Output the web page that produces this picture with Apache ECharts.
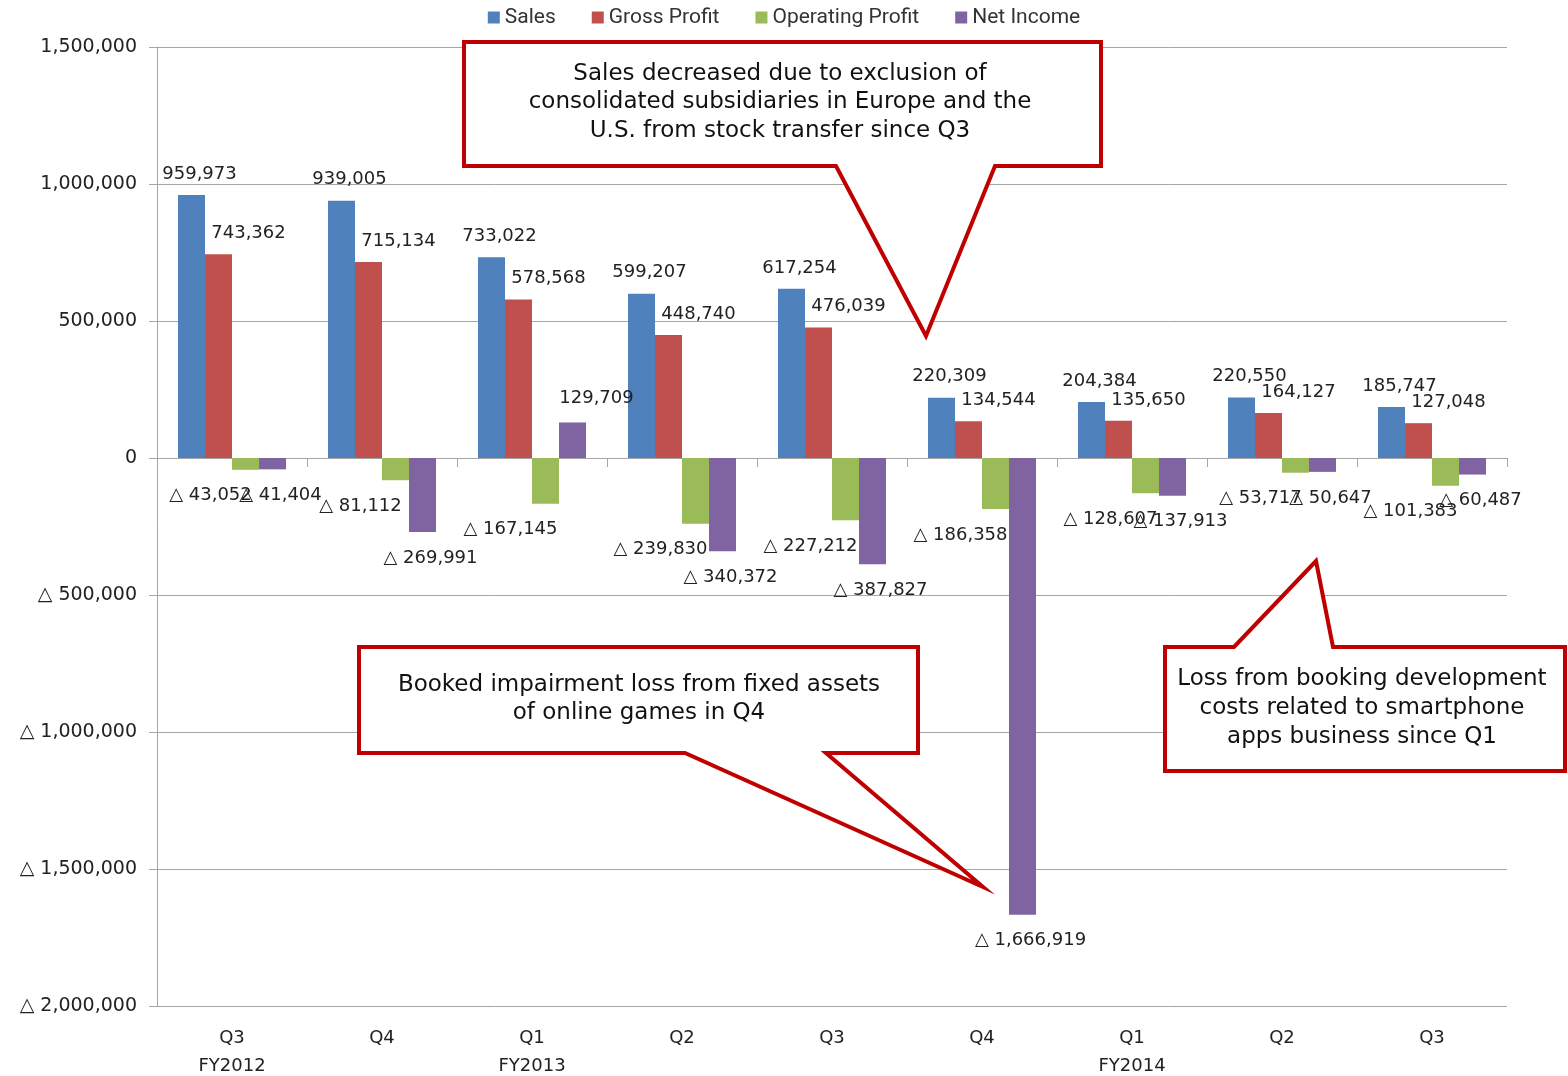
<!DOCTYPE html>
<html lang="en">
<head>
    <meta charset="UTF-8">
    <title>Quarterly results</title>
    <script src="https://cdn.jsdelivr.net/npm/echarts@6/dist/echarts.min.js"></script>
    <style>
        body { margin: 0; background: #fff; }
    </style>
</head>
<body>
<div id="chartmain" style="width: 1568px; height: 1076px;"></div>
<script type="text/javascript">
    // data
    var quarters = ['Q3\nFY2012', 'Q4', 'Q1\nFY2013', 'Q2', 'Q3', 'Q4', 'Q1\nFY2014', 'Q2', 'Q3'];
    var sales = [959973, 939005, 733022, 599207, 617254, 220309, 204384, 220550, 185747];
    var grossProfit = [743362, 715134, 578568, 448740, 476039, 134544, 135650, 164127, 127048];
    var operatingProfit = [-43052, -81112, -167145, -239830, -227212, -186358, -128607, -53717, -101383];
    var netIncome = [-41404, -269991, 129709, -340372, -387827, -1666919, -137913, -50647, -60487];

    var callouts = [
        {lines: ['Sales decreased due to exclusion of', 'consolidated subsidiaries in Europe and the', 'U.S. from stock transfer since Q3']},
        {lines: ['Booked impairment loss from fixed assets', 'of online games in Q4']},
        {lines: ['Loss from booking development', 'costs related to smartphone', 'apps business since Q1']}
    ];

    var labelFont = 'DejaVu Sans';
    var textColor = '#222';

    function fmt(v) {
        if (v < 0) return '\u25B3 ' + (-v).toLocaleString('en-US');
        return v.toLocaleString('en-US');
    }

    // bars with a negative value get their label under the bar
    function withLabels(arr, posOffset, negOffset) {
        return arr.map(function (v) {
            if (v >= 0) {
                return {value: v, label: {position: 'top', offset: posOffset}};
            }
            return {value: v, label: {position: 'bottom', offset: negOffset}};
        });
    }

    function barSeries(name, color, data) {
        return {
            name: name,
            type: 'bar',
            xAxisIndex: 0,
            barWidth: 27,
            barGap: '0%',
            itemStyle: {color: color},
            label: {
                show: true,
                distance: 13,
                fontFamily: labelFont,
                fontSize: 18,
                color: textColor,
                formatter: function (p) { return fmt(p.value); }
            },
            data: data
        };
    }

    var myChart = echarts.init(document.getElementById('chartmain'));

    var graphics = [];
    var shapes = [
        [[464, 42], [1101, 42], [1101, 166], [995, 166], [926, 336], [836, 166], [464, 166]],
        [[359, 647], [918, 647], [918, 753], [826, 753], [983, 887], [685, 753], [359, 753]],
        [[1165, 647], [1234, 647], [1316, 561], [1333, 647], [1565, 647], [1565, 771], [1165, 771]]
    ];
    var textPos = [[780, 74, 28.5], [639, 685, 28.5], [1362, 679, 29]];
    shapes.forEach(function (pts, i) {
        graphics.push({
            type: 'polygon',
            z: 100,
            shape: {points: pts},
            style: {fill: '#fff', stroke: '#c00000', lineWidth: 4, lineJoin: 'miter'}
        });
        callouts[i].lines.forEach(function (t, j) {
            graphics.push({
                type: 'text',
                z: 101,
                x: textPos[i][0],
                y: textPos[i][1] + j * textPos[i][2],
                style: {
                    text: t,
                    fill: '#111',
                    font: '23px "DejaVu Sans"',
                    textAlign: 'center',
                    textVerticalAlign: 'middle'
                }
            });
        });
    });

    var option = {
        animation: false,
        backgroundColor: '#fff',
        legend: {
            top: 2,
            left: 'center',
            icon: 'rect',
            itemWidth: 12,
            itemHeight: 12,
            itemGap: 36,
            textStyle: {fontFamily: 'Roboto', fontSize: 21, color: '#333'},
            data: ['Sales', 'Gross Profit', 'Operating Profit', 'Net Income']
        },
        grid: {left: 157, right: 61, top: 47, bottom: 70, outerBoundsMode: 'none', containLabel: false},
        xAxis: [{
            type: 'category',
            data: quarters,
            position: 'bottom',
            axisLine: {show: false, onZero: false},
            axisTick: {show: false},
            axisLabel: {
                margin: 18,
                fontFamily: labelFont,
                fontSize: 18,
                lineHeight: 28,
                color: textColor
            }
        }, {
            type: 'category',
            data: quarters,
            position: 'bottom',
            axisLine: {show: true, onZero: true, lineStyle: {color: '#a6a6a6', width: 1}},
            axisTick: {show: true, length: 9, lineStyle: {color: '#a6a6a6'}},
            axisLabel: {show: false}
        }],
        yAxis: {
            type: 'value',
            min: -2000000,
            max: 1500000,
            interval: 500000,
            axisLine: {show: true, lineStyle: {color: '#a6a6a6'}},
            axisTick: {show: true, length: 8, lineStyle: {color: '#a6a6a6'}},
            splitLine: {lineStyle: {color: '#a6a6a6', width: 1}},
            axisLabel: {
                margin: 20,
                fontFamily: labelFont,
                fontSize: 19,
                color: textColor,
                formatter: function (v) { return fmt(v); }
            }
        },
        series: [
            barSeries('Sales', '#4f81bd', withLabels(sales, [8, 1], [0, 0])),
            barSeries('Gross Profit', '#c0504d', withLabels(grossProfit, [30, 1], [0, 0])),
            barSeries('Operating Profit', '#9bbb59', withLabels(operatingProfit, [0, 0], [-35, 4])),
            barSeries('Net Income', '#8064a2', withLabels(netIncome, [24, -2], [8, 4]))
        ],
        graphic: graphics
    };

    myChart.setOption(option);
</script>
</body>
</html>
